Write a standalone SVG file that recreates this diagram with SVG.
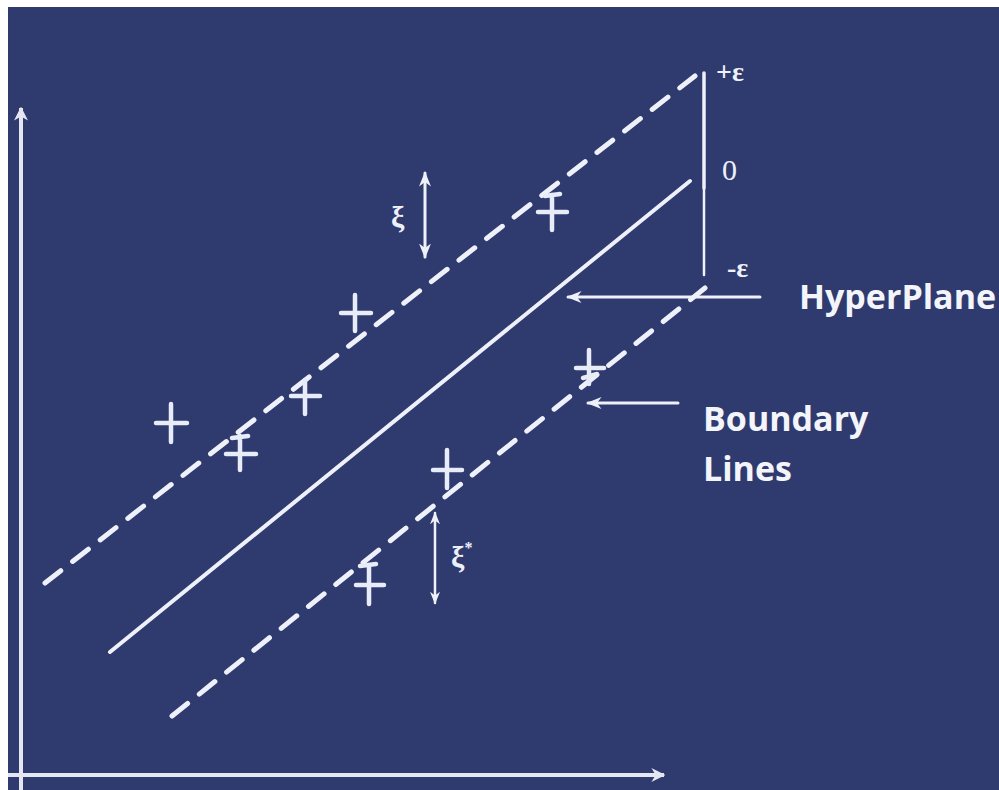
<svg xmlns="http://www.w3.org/2000/svg" width="999" height="790" viewBox="0 0 999 790">
<defs>
<style>
.ln{stroke:#eef0fa;fill:none;stroke-linecap:round}
.dash{stroke-width:5;stroke-dasharray:20 15}
.axis{stroke:#e4e6f2;stroke-width:4;fill:none}
.pt{stroke:#e8ecf8;stroke-width:4.5;stroke-linecap:round;fill:none}
.lbl{font-family:"Liberation Serif",serif;fill:#eef0fa}
.big{font-family:"Open Sans","Liberation Sans",sans-serif;font-weight:bold;fill:#f4f5fb}
</style>
<marker id="ah" viewBox="0 0 10 10" refX="9" refY="5" markerWidth="5" markerHeight="5" orient="auto-start-reverse" markerUnits="strokeWidth">
<path d="M0,1 L10,5 L0,9 L3,5 Z" fill="#eef0fa"/>
</marker>
<marker id="ax" viewBox="0 0 10 10" refX="9" refY="5" markerWidth="3.5" markerHeight="3.5" orient="auto" markerUnits="strokeWidth">
<path d="M0,0 L10,5 L0,10 L3,5 Z" fill="#e4e6f2"/>
</marker>
</defs>
<rect x="0" y="0" width="999" height="790" fill="#ffffff"/>
<rect x="8" y="7" width="991" height="783" fill="#2f3b6f"/>

<g id="axes">
<line class="axis" x1="21" y1="790" x2="21" y2="108" marker-end="url(#ax)"/>
<line class="axis" x1="8" y1="775" x2="664" y2="775" marker-end="url(#ax)"/>
</g>

<g id="connectors">
<line class="ln dash" x1="45" y1="583" x2="695" y2="76"/>
<line class="ln" stroke-width="4" x1="110" y1="652" x2="690" y2="181"/>
<line class="ln dash" x1="172" y1="716" x2="705" y2="288"/>
<line class="ln" stroke-width="3.5" x1="704" y1="73" x2="704" y2="188"/>
<line class="ln" stroke-width="2.5" x1="704" y1="188" x2="704" y2="275"/>
<line class="ln" stroke-width="3" x1="760" y1="297" x2="568" y2="297" marker-end="url(#ah)"/>
<line class="ln" stroke-width="3" x1="678" y1="403" x2="588" y2="403" marker-end="url(#ah)"/>
<line class="ln" stroke-width="3" x1="425" y1="173" x2="425" y2="257" marker-start="url(#ah)" marker-end="url(#ah)"/>
<line class="ln" stroke-width="2.5" x1="435" y1="513" x2="435" y2="603" marker-start="url(#ah)" marker-end="url(#ah)"/>
</g>

<g id="points">
<path class="pt" d="M156,423 H187 M171,404 V442"/>
<path class="pt" d="M226,454 H256 M240,436 V470 M232,438 L248,436"/>
<path class="pt" d="M291,396 H320 M305,380 V414"/>
<path class="pt" d="M341,313 H371 M355,295 V331"/>
<path class="pt" d="M538,212 H567 M552,195 V230 M545,196 L560,194"/>
<path class="pt" d="M576,368 H604 M589,350 V384 M583,378 L597,374"/>
<path class="pt" d="M433,470 H462 M447,450 V488"/>
<path class="pt" d="M356,585 H384 M369,566 V604 M360,566 L376,564"/>
</g>

<g id="labels">
<text class="lbl" x="716" y="81" font-size="28" font-weight="bold">+ε</text>
<text class="lbl" x="722" y="180" font-size="30">0</text>
<text class="lbl" x="727" y="277" font-size="28" font-weight="bold">-ε</text>
<text class="lbl" x="391" y="227" font-size="30" font-weight="bold">ξ</text>
<text class="lbl" x="451" y="567" font-size="30" font-weight="bold">ξ<tspan font-size="16" dy="-14">*</tspan></text>
</g>

<g id="hyperplane-label">
<text class="big" x="799" y="309" font-size="34">HyperPlane</text>
</g>
<g id="boundary-label">
<text class="big" x="703" y="431" font-size="34">Boundary</text>
<text class="big" x="703" y="481" font-size="34">Lines</text>
</g>
</svg>
